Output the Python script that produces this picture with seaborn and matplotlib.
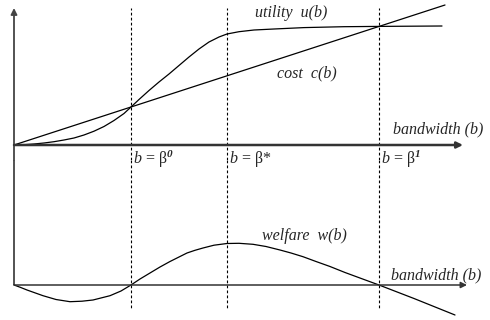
import numpy as np
import matplotlib
matplotlib.use("Agg")
import matplotlib.pyplot as plt
import seaborn as sns

# bandwidth positions (schematic units)
b_utility = [0, 1, 2, 3, 4, 5, 6, 7, 8, 9, 10, 11, 11.7, 12.5, 13.5, 14.5, 15.5, 16.5,
             17.5, 18.5, 19.5, 20.5, 21.3, 22.5, 24, 26, 29, 33, 36.5, 42.8]
utility = [0, 0.03, 0.1, 0.2, 0.33, 0.5, 0.7, 1.0, 1.38, 1.85, 2.45, 3.15, 3.8, 4.55, 5.45, 6.3,
           7.1, 7.95, 8.8, 9.6, 10.3, 10.8, 11.1, 11.33, 11.5, 11.6, 11.74, 11.83, 11.86, 11.9]

b_cost = [0.0, 43.1]
cost = [0.0, 14.0]

b_welfare = [0, 0.6, 1.3, 2.9, 4.2, 5.6, 6.8, 7.9, 9.6, 10.7, 11.7, 12.6, 13.6, 14.6, 15.6,
             16.5, 17.3, 18.1, 18.9, 20, 21.3, 22.5, 23.9, 25.2, 26.6, 27.7, 28.9, 30.2,
             31.6, 33.1, 35, 36.5, 40, 44.1]
welfare = [0, -0.22, -0.5, -1.07, -1.45, -1.67, -1.62, -1.5, -1.07, -0.6, 0, 0.6, 1.2, 1.8,
           2.35, 2.8, 3.2, 3.47, 3.7, 3.98, 4.15, 4.17, 4.07, 3.85, 3.5, 3.2, 2.83, 2.35,
           1.85, 1.25, 0.55, 0, -1.35, -3.0]

beta_pos = [11.7, 21.3, 36.5]
beta_labels = [r'$b$ = β$^{\mathbf{0}}$', r'$b$ = β*', r'$b$ = β$^{\mathbf{1}}$']

sns.set_style("white")
plt.rcParams['font.family'] = ['Liberation Serif', 'DejaVu Serif']
plt.rcParams['mathtext.fontset'] = 'custom'
plt.rcParams['mathtext.rm'] = 'Liberation Serif'
plt.rcParams['mathtext.it'] = 'Liberation Serif:italic'
plt.rcParams['mathtext.bf'] = 'Liberation Serif:italic:bold'

fig = plt.figure(figsize=(4.9, 3.2), dpi=100)
ax_top = fig.add_axes([0, 0.5, 1, 0.5])
ax_bot = fig.add_axes([0, 0, 1, 0.5])

ax_top.set_xlim(-1.4, 47.6)
ax_top.set_ylim(-1.5, 14.5)
ax_bot.set_xlim(-1.4, 47.6)
ax_bot.set_ylim(-3.5, 12.5)

for ax in (ax_top, ax_bot):
    ax.axis('off')

fs = 11.5
axis_col = '#444444'

# axes with arrows
ax_top.annotate('', xy=(0, 13.7), xytext=(0, -1.5),
                arrowprops=dict(arrowstyle='-|>', mutation_scale=9, lw=1.3, color=axis_col, shrinkA=0, shrinkB=0))
ax_bot.plot([0, 0], [0, 12.5], color=axis_col, lw=1.3, solid_capstyle='butt')
ax_top.annotate('', xy=(44.9, 0), xytext=(0, 0),
                arrowprops=dict(arrowstyle='-|>', mutation_scale=9, lw=1.8, color='#333333', shrinkA=0, shrinkB=0))
ax_bot.annotate('', xy=(45.3, 0), xytext=(0, 0),
                arrowprops=dict(arrowstyle='-|>', mutation_scale=9, lw=1.1, color='#333333', shrinkA=0, shrinkB=0))

# dashed markers
for bx in beta_pos:
    ax_top.plot([bx, bx], [-1.5, 13.7], color='black', lw=0.8, ls=(0, (2.5, 2)))
    ax_bot.plot([bx, bx], [12.5, -2.5], color='black', lw=0.8, ls=(0, (2.5, 2)))

sns.lineplot(x=b_utility, y=utility, ax=ax_top, color='black', lw=0.9, sort=False)
sns.lineplot(x=b_cost, y=cost, ax=ax_top, color='black', lw=0.9, sort=False)
sns.lineplot(x=b_welfare, y=welfare, ax=ax_bot, color='black', lw=0.9, sort=False)

ax_top.text(24.1, 13.2, 'utility  u(b)', fontsize=fs, style='italic', va='center', ha='left')
ax_top.text(26.3, 7.2, 'cost  c(b)', fontsize=fs, style='italic', va='center', ha='left')
ax_top.text(37.9, 1.6, 'bandwidth (b)', fontsize=fs, style='italic', va='center', ha='left')
for bx, lab in zip(beta_pos, beta_labels):
    ax_top.text(bx + 0.2, -1.4, lab, fontsize=fs, va='center', ha='left')

ax_bot.text(24.8, 4.9, 'welfare  w(b)', fontsize=fs, style='italic', va='center', ha='left')
ax_bot.text(37.7, 1.0, 'bandwidth (b)', fontsize=fs, style='italic', va='center', ha='left')

fig.savefig('out.png', dpi=100, facecolor='white')
